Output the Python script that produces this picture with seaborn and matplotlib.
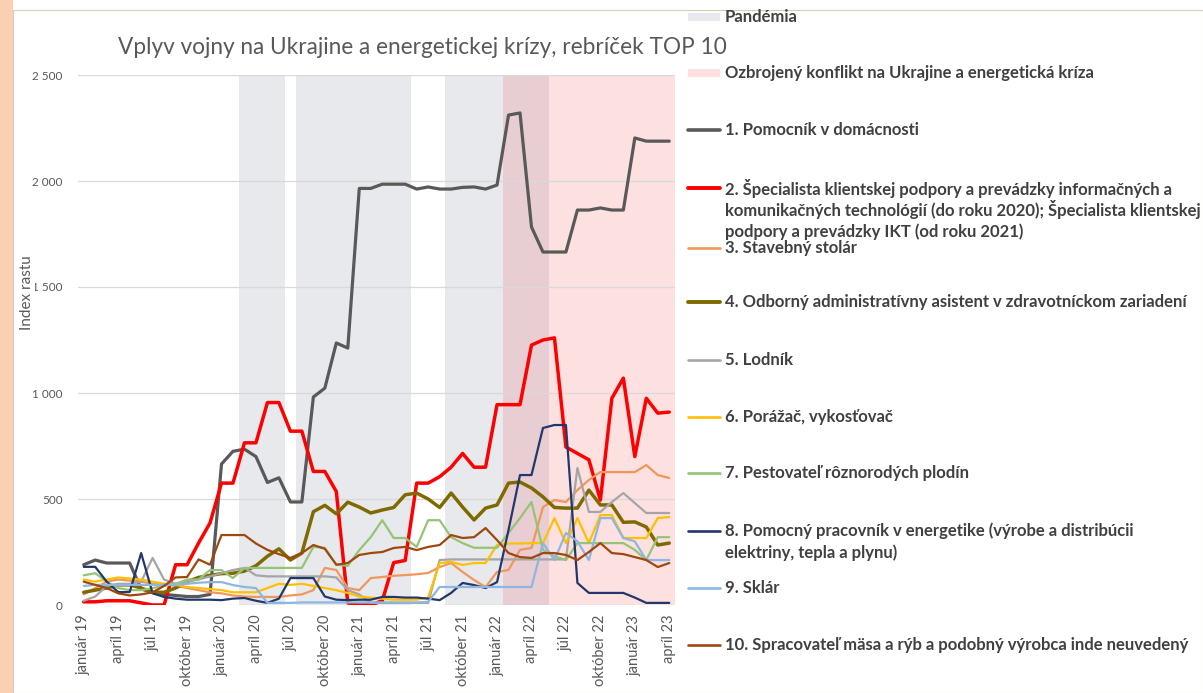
import matplotlib
matplotlib.use("Agg")
import matplotlib.pyplot as plt
from matplotlib.lines import Line2D
from matplotlib.patches import Rectangle
import numpy as np
import pandas as pd
import seaborn as sns

sns.set_theme(style="white")
plt.rcParams["font.family"] = ["Lato", "DejaVu Sans"]

# ---- data -------------------------------------------------------------
month_names = ["január", "február", "marec", "apríl", "máj", "jún", "júl",
               "august", "september", "október", "november", "december"]
years = ["19", "20", "21", "22", "23"]
n_months = 52  # január 19 .. apríl 23
categories = [f"{m} {y}" for y in years for m in month_names][:n_months]

pomocnik_domacnost = [190, 212, 198, 198, 198, 75, 60, 50, 45, 40, 40, 50,
                      665, 725, 735, 700, 578, 600, 486, 486, 981, 1023, 1236, 1212,
                      1965, 1965, 1985, 1985, 1985, 1962, 1972, 1962, 1962, 1970, 1972, 1962,
                      1981, 2311, 2321, 1783, 1665, 1665, 1665, 1863, 1863, 1873, 1863, 1863,
                      2203, 2188, 2188, 2188]
specialista_ikt = [15, 15, 20, 20, 20, 10, 0, 0, 190, 190, 292, 387,
                   575, 575, 765, 765, 955, 955, 820, 820, 630, 630, 535, 10,
                   0, 0, 20, 200, 210, 575, 575, 605, 650, 715, 650, 650,
                   945, 945, 945, 1226, 1250, 1260, 745, 715, 685, 495, 975, 1070,
                   700, 975, 905, 910]
stavebny_stolar = [50, 80, 110, 120, 115, 110, 100, 100, 90, 80, 70, 60,
                   55, 45, 40, 38, 38, 38, 45, 50, 70, 175, 165, 80,
                   70, 127, 132, 138, 141, 145, 151, 179, 198, 156, 118, 85,
                   156, 165, 260, 269, 462, 495, 486, 542, 590, 627, 627, 627,
                   627, 660, 613, 599]
admin_asistent = [60, 70, 80, 95, 95, 80, 60, 60, 80, 110, 130, 140,
                  148, 150, 160, 185, 230, 265, 212, 245, 440, 470, 430, 485,
                  462, 434, 448, 460, 520, 528, 500, 460, 528, 462, 401, 457,
                  472, 575, 580, 552, 510, 460, 457, 457, 542, 472, 472, 390,
                  392, 368, 283, 292]
lodnik = [20, 40, 90, 100, 100, 110, 222, 120, 100, 110, 120, 135,
          150, 165, 175, 140, 135, 135, 135, 135, 135, 135, 130, 70,
          50, 10, 10, 10, 10, 10, 10, 212, 215, 215, 215, 215,
          215, 215, 215, 215, 215, 215, 215, 646, 439, 439, 486, 528,
          481, 434, 434, 434]
porazac = [120, 110, 120, 130, 125, 120, 110, 100, 95, 85, 80, 75,
           70, 60, 60, 60, 80, 100, 95, 100, 90, 80, 70, 57,
           40, 35, 30, 25, 25, 25, 35, 198, 203, 189, 198, 198,
           283, 290, 290, 292, 292, 410, 292, 410, 292, 424, 424, 316,
           316, 316, 410, 415]
pestovatel = [140, 150, 110, 80, 70, 70, 80, 90, 100, 120, 120, 165,
              165, 127, 175, 175, 175, 175, 175, 175, 274, 270, 190, 185,
              259, 320, 400, 316, 316, 274, 400, 400, 320, 292, 270, 270,
              270, 340, 410, 486, 260, 230, 212, 292, 292, 292, 292, 292,
              260, 212, 320, 320]
pracovnik_energetika = [180, 180, 110, 61, 61, 245, 55, 38, 30, 25, 25, 25,
                        23, 30, 33, 20, 10, 30, 127, 127, 127, 40, 25, 23,
                        25, 25, 38, 38, 35, 35, 30, 23, 57, 104, 94, 80,
                        108, 354, 613, 613, 835, 849, 849, 104, 57, 57, 57, 57,
                        35, 10, 10, 10]
sklar = [90, 95, 95, 95, 95, 95, 95, 95, 95, 100, 105, 108,
         108, 94, 85, 80, 10, 10, 10, 12, 12, 12, 12, 12,
         12, 12, 12, 12, 12, 12, 15, 85, 85, 85, 85, 85,
         85, 85, 85, 85, 292, 212, 340, 300, 212, 410, 410, 316,
         300, 212, 212, 212]
spracovatel_masa = [110, 95, 80, 55, 45, 50, 60, 90, 130, 132, 215, 190,
                    330, 330, 330, 290, 260, 240, 222, 245, 283, 265, 190, 198,
                    236, 245, 250, 269, 274, 259, 274, 283, 330, 316, 320, 363,
                    306, 245, 226, 222, 245, 245, 236, 212, 250, 292, 245, 240,
                    226, 212, 179, 198]

series_labels = [
    "1. Pomocník v domácnosti",
    "2. Špecialista klientskej podpory a prevádzky informačných a\n"
    "komunikačných technológií (do roku 2020); Špecialista klientskej\n"
    "podpory a prevádzky IKT (od roku 2021)",
    "3. Stavebný stolár",
    "4. Odborný administratívny asistent v zdravotníckom zariadení",
    "5. Lodník",
    "6. Porážač, vykosťovač",
    "7. Pestovateľ rôznorodých plodín",
    "8. Pomocný pracovník v energetike (výrobe a distribúcii\n"
    "elektriny, tepla a plynu)",
    "9. Sklár",
    "10. Spracovateľ mäsa a rýb a podobný výrobca inde neuvedený",
]
series_values = [pomocnik_domacnost, specialista_ikt, stavebny_stolar,
                 admin_asistent, lodnik, porazac, pestovatel,
                 pracovnik_energetika, sklar, spracovatel_masa]

pandemic_periods = [("marec 20", "jún 20"), ("august 20", "máj 21"),
                    ("september 21", "máj 22")]
war_period = ("február 22", "apríl 23")

title = "Vplyv vojny na Ukrajine a energetickej krízy, rebríček TOP 10"
y_label = "Index rastu"
y_ticks = [0, 500, 1000, 1500, 2000, 2500]
y_tick_labels = ["0", "500", "1 000", "1 500", "2 000", "2 500"]
pandemic_label = "Pandémia"
war_label = "Ozbrojený konflikt na Ukrajine a energetická kríza"

# ---- styling ----------------------------------------------------------
colors = ["#595959", "#FF0000", "#F1975A", "#7F6A00", "#A5A5A5",
          "#FFC000", "#95C476", "#22386A", "#8DB6E0", "#9E480E"]
widths = [2.3, 2.5, 1.6, 2.5, 1.6, 1.6, 1.6, 1.6, 1.6, 1.6]
pandemic_color = "#E7E9ED"
war_color = "#FDE1E1"
overlap_color = "#E8CED3"
text_gray = "#595959"
legend_text = "#404040"
legend_size = 12

W, H = 1203, 693
fig = plt.figure(figsize=(W / 100, H / 100), dpi=100)
fig.patch.set_facecolor("white")

# page decoration: coloured margin strip and chart frame
fig.add_artist(Rectangle((0, 0), 13 / W, 1, transform=fig.transFigure,
                         facecolor="#FAD0B2", edgecolor="none", zorder=0))
fig.add_artist(Rectangle((13 / W, 0), 1 - 13 / W, 1 - 10 / H,
                         transform=fig.transFigure, facecolor="none",
                         edgecolor="#D8CCB4", lw=0.8, zorder=1))

ax = fig.add_axes([78 / W, 1 - 605 / H, (675 - 78) / W, (605 - 75) / H])
ax.set_facecolor("none")

idx = {c: i for i, c in enumerate(categories)}

# shaded periods
war_s, war_e = idx[war_period[0]] - 0.5, idx[war_period[1]] + 0.5
ax.axvspan(war_s, war_e, color=war_color, lw=0, zorder=0.1)
for s, e in pandemic_periods:
    ps, pe = idx[s] - 0.5, idx[e] + 0.5
    ax.axvspan(ps, pe, color=pandemic_color, lw=0, zorder=0.2)
    lo, hi = max(ps, war_s), min(pe, war_e)
    if hi > lo:
        ax.axvspan(lo, hi, color=overlap_color, lw=0, zorder=0.3)

# lines
x = np.arange(n_months)
for k, (vals, lab) in enumerate(zip(series_values, series_labels)):
    df = pd.DataFrame({"x": x, "v": vals})
    sns.lineplot(data=df, x="x", y="v", ax=ax, color=colors[k],
                 linewidth=widths[k], zorder=2 + k * 0.01, legend=False)

ax.set_xlim(-0.5, n_months - 0.5)
ax.set_ylim(0, 2500)
ax.set_axisbelow(True)
ax.yaxis.grid(True, color="#D9D9D9", lw=0.9)
ax.xaxis.grid(False)
for sp in ax.spines.values():
    sp.set_visible(False)

ax.set_xticks(x[::3])
ax.set_xticklabels(categories[::3], rotation=90, fontsize=10.5, color=text_gray)
ax.set_yticks(y_ticks)
ax.set_yticklabels(y_tick_labels, fontsize=8.5, color=text_gray)
ax.tick_params(axis="both", length=0)
ax.tick_params(axis="x", pad=7)
ax.tick_params(axis="y", pad=11)
ax.set_xlabel("")
ax.set_ylabel(y_label, fontsize=11, color=text_gray,
              bbox=dict(facecolor="white", edgecolor="none", pad=1.0))
ax.yaxis.set_label_coords(-0.074, 0.59)

fig.text(422 / W, 1 - 47 / H, title, ha="center", va="center",
         fontsize=16.3, color=text_gray)

# legend, drawn at the right of the plot
def fy(px):
    return 1 - px / H

hx0, hx1, tx = 688 / W, 720 / W, 725 / W
line_step = 22
fig.add_artist(Rectangle((hx0, fy(17) - 4 / H), hx1 - hx0, 8 / H,
                         transform=fig.transFigure, facecolor=pandemic_color,
                         edgecolor="none"))
fig.text(tx, fy(17), pandemic_label, va="center", fontsize=legend_size,
         fontweight="bold", color=legend_text)
fig.add_artist(Rectangle((hx0, fy(73) - 4 / H), hx1 - hx0, 8 / H,
                         transform=fig.transFigure, facecolor=war_color,
                         edgecolor="none"))
fig.text(tx, fy(73), war_label, va="center", fontsize=legend_size,
         fontweight="bold", color=legend_text)

legend_rows = [130, 188, 248, 302, 360, 417, 473, 531, 588, 645]
for k, lab in enumerate(series_labels):
    yp = legend_rows[k]
    fig.add_artist(Line2D([hx0, hx1], [fy(yp), fy(yp)],
                          transform=fig.transFigure, color=colors[k],
                          lw=widths[k] + 0.3))
    for j, part in enumerate(lab.split("\n")):
        fig.text(tx, fy(yp + j * line_step), part, va="center",
                 fontsize=legend_size, fontweight="bold", color=legend_text)

fig.savefig("out.png", dpi=100)
